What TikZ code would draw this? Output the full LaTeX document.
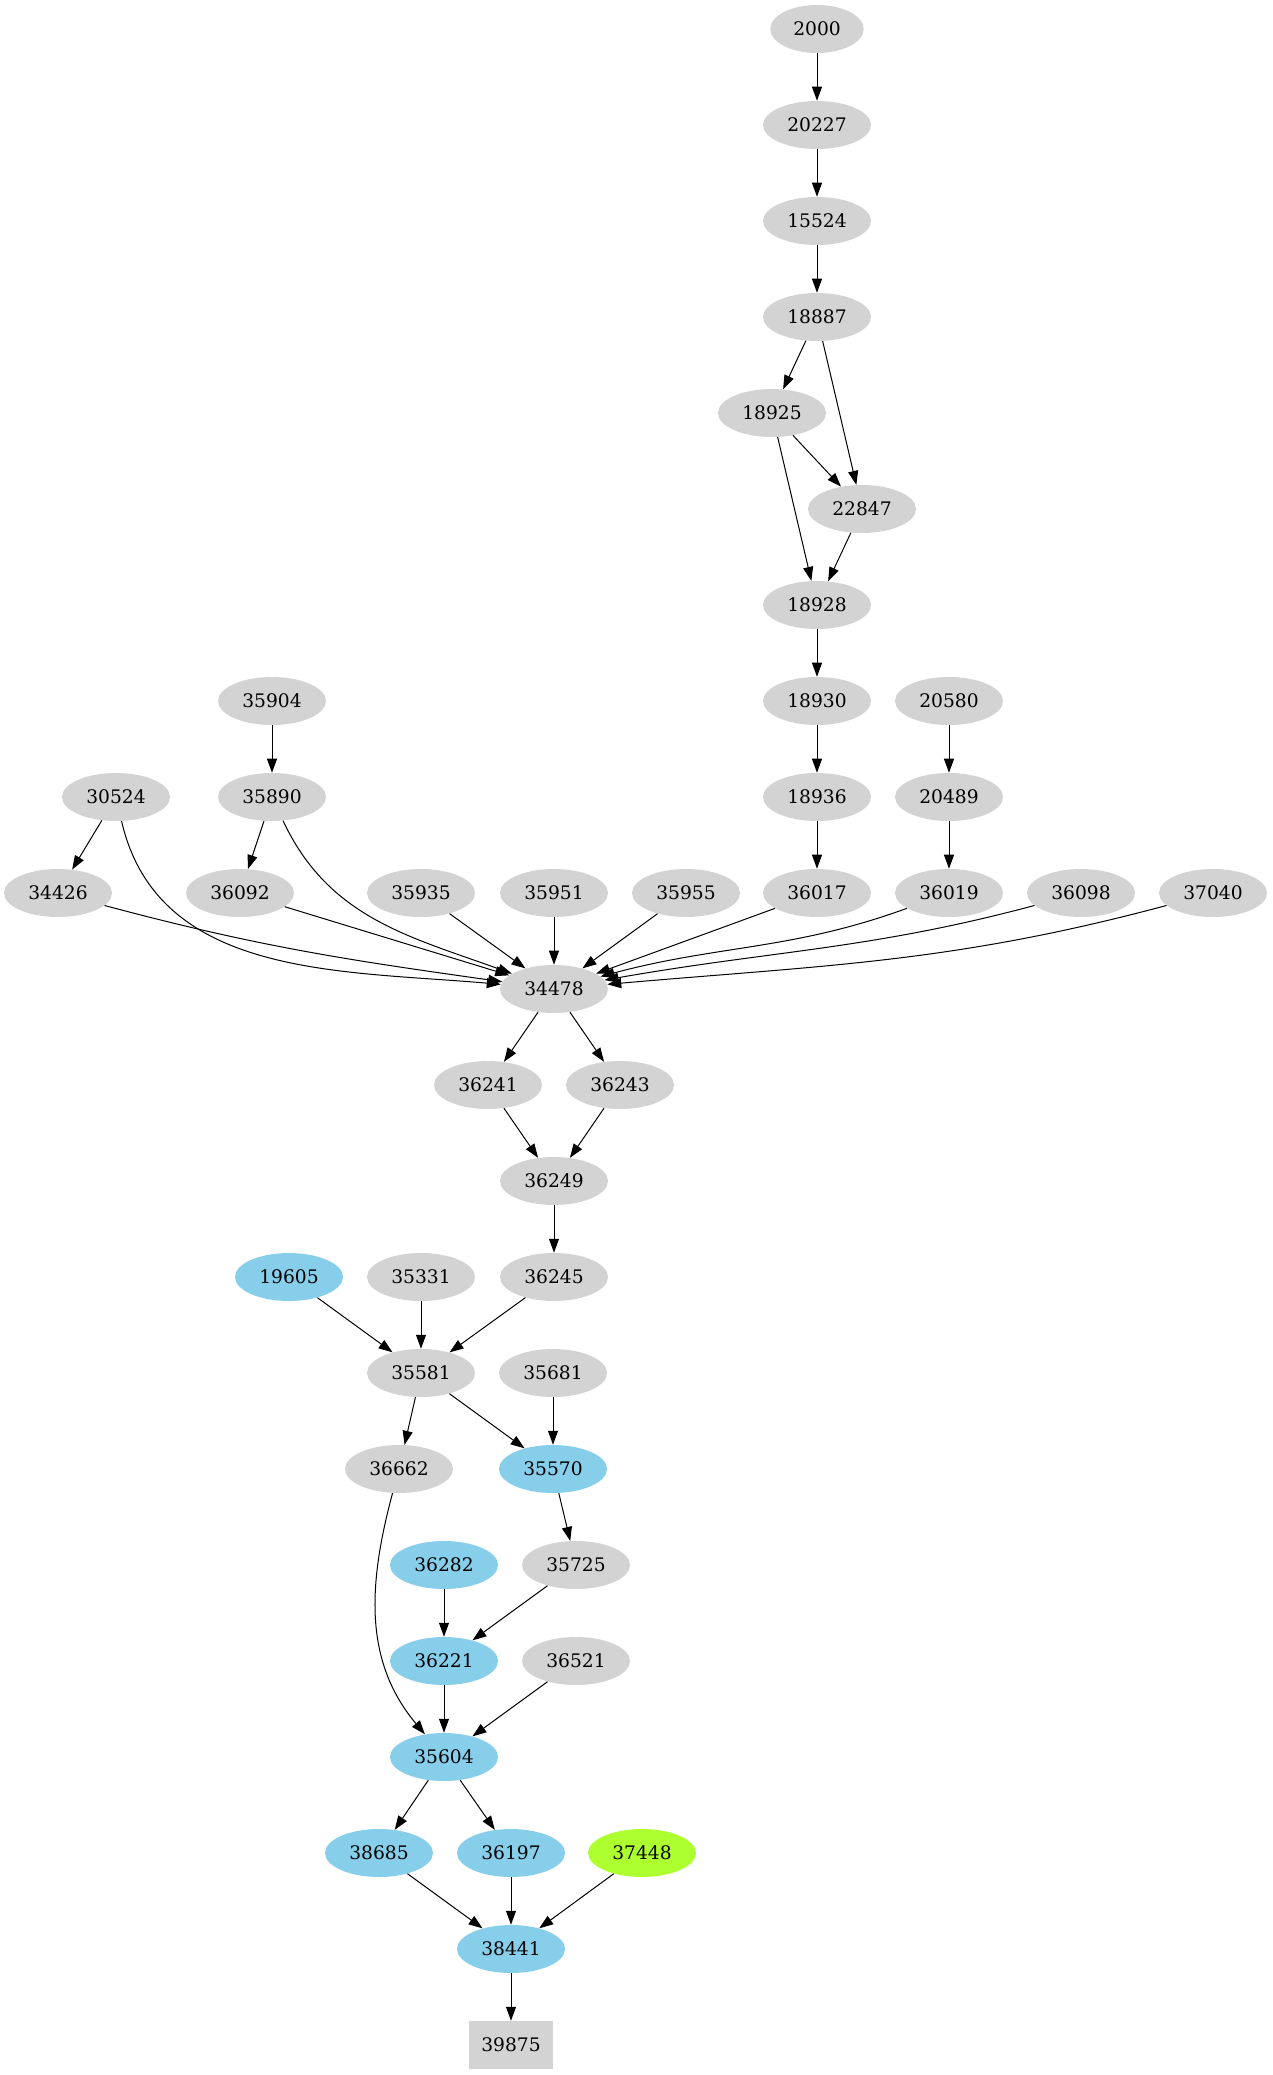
\documentclass[tikz,border=0pt]{standalone}
\usepackage{fontspec}
\setmainfont{DejaVu Serif}
\usepackage{tikz}
\usetikzlibrary{arrows.meta,shapes.geometric}
\definecolor{grayfill}{HTML}{D3D3D3}
\definecolor{skyfill}{HTML}{87CEEB}
\definecolor{limefill}{HTML}{ADFF2F}

\begin{document}
\begin{tikzpicture}[x=0.75pt,y=-0.75pt]
\tikzset{vertex/.style = {shape=ellipse,fill=grayfill,minimum width=81pt,minimum height=36pt,inner sep=0pt,font=\fontsize{14}{16}\selectfont}}
\tikzset{sky/.style = {vertex,fill=skyfill}}
\tikzset{lime/.style = {vertex,fill=limefill}}
\tikzset{sink/.style = {vertex,shape=rectangle,minimum width=63pt}}
\tikzset{edge/.style = {->,> = {Triangle[length=10.5pt,width=7.5pt]},line width=0.75pt}}
\useasboundingbox (0,0) rectangle (1273,2075);
% vertices

\node[vertex,minimum width=70pt] (n2000) at (817,29) {2000};
\node[vertex] (n20227) at (817,125) {20227};
\node[vertex] (n15524) at (817,221) {15524};
\node[vertex] (n18887) at (817,317) {18887};
\node[vertex] (n18925) at (772,413) {18925};
\node[vertex] (n22847) at (862,509) {22847};
\node[vertex] (n18928) at (817,605) {18928};
\node[vertex] (n35904) at (272,701) {35904};
\node[vertex] (n18930) at (817,701) {18930};
\node[vertex] (n20580) at (949,701) {20580};
\node[vertex] (n30524) at (116,797) {30524};
\node[vertex] (n35890) at (272,797) {35890};
\node[vertex] (n18936) at (817,797) {18936};
\node[vertex] (n20489) at (949,797) {20489};
\node[vertex] (n34426) at (58,893) {34426};
\node[vertex] (n36092) at (240,893) {36092};
\node[vertex] (n35935) at (421,893) {35935};
\node[vertex] (n35951) at (554,893) {35951};
\node[vertex] (n35955) at (686,893) {35955};
\node[vertex] (n36017) at (817,893) {36017};
\node[vertex] (n36019) at (949,893) {36019};
\node[vertex] (n36098) at (1081,893) {36098};
\node[vertex] (n37040) at (1213,893) {37040};
\node[vertex] (n34478) at (554,989) {34478};
\node[vertex] (n36241) at (488,1085) {36241};
\node[vertex] (n36243) at (620,1085) {36243};
\node[vertex] (n36249) at (554,1181) {36249};
\node[sky] (n19605) at (289,1277) {19605};
\node[vertex] (n35331) at (421,1277) {35331};
\node[vertex] (n36245) at (554,1277) {36245};
\node[vertex] (n35581) at (421,1373) {35581};
\node[vertex] (n35681) at (553,1373) {35681};
\node[vertex] (n36662) at (399,1469) {36662};
\node[sky] (n35570) at (553,1469) {35570};
\node[sky] (n36282) at (444,1565) {36282};
\node[vertex] (n35725) at (576,1565) {35725};
\node[sky] (n36221) at (444,1661) {36221};
\node[vertex] (n36521) at (576,1661) {36521};
\node[sky] (n35604) at (444,1757) {35604};
\node[sky] (n38685) at (379,1853) {38685};
\node[sky] (n36197) at (511,1853) {36197};
\node[lime] (n37448) at (642,1853) {37448};
\node[sky] (n38441) at (511,1949) {38441};
\node[sink] (n39875) at (511,2045) {39875};

%edges
\draw[edge] (n2000) to (n20227);
\draw[edge] (n20227) to (n15524);
\draw[edge] (n15524) to (n18887);
\draw[edge] (n18887) to (n18925);
\draw[edge] (n18887) to (n22847);
\draw[edge] (n18925) to (n22847);
\draw[edge] (n18925) to (n18928);
\draw[edge] (n22847) to (n18928);
\draw[edge] (n18928) to (n18930);
\draw[edge] (n18930) to (n18936);
\draw[edge] (n18936) to (n36017);
\draw[edge] (n20580) to (n20489);
\draw[edge] (n20489) to (n36019);
\draw[edge] (n35904) to (n35890);
\draw[edge] (n30524) to (n34426);
\draw[edge] (n35890) to (n36092);
\draw[edge] (n30524) to[out=-77,in=175] (n34478);
\draw[edge] (n35890) to[out=-65,in=160] (n34478);
\draw[edge] (n34426) to[out=-15,in=172] (n34478);
\draw[edge] (n36092) to (n34478);
\draw[edge] (n35935) to (n34478);
\draw[edge] (n35951) to (n34478);
\draw[edge] (n35955) to (n34478);
\draw[edge] (n36017) to (n34478);
\draw[edge] (n36019) to[out=-160,in=15] (n34478);
\draw[edge] (n36098) to[out=-165,in=10] (n34478);
\draw[edge] (n37040) to[out=-165,in=5] (n34478);
\draw[edge] (n34478) to (n36241);
\draw[edge] (n34478) to (n36243);
\draw[edge] (n36241) to (n36249);
\draw[edge] (n36243) to (n36249);
\draw[edge] (n36249) to (n36245);
\draw[edge] (n19605) to (n35581);
\draw[edge] (n35331) to (n35581);
\draw[edge] (n36245) to (n35581);
\draw[edge] (n35581) to (n36662);
\draw[edge] (n35581) to (n35570);
\draw[edge] (n35681) to (n35570);
\draw[edge] (n35570) to (n35725);
\draw[edge] (n36662) to[out=-105,in=130] (n35604);
\draw[edge] (n36282) to (n36221);
\draw[edge] (n35725) to (n36221);
\draw[edge] (n36221) to (n35604);
\draw[edge] (n36521) to (n35604);
\draw[edge] (n35604) to (n38685);
\draw[edge] (n35604) to (n36197);
\draw[edge] (n38685) to (n38441);
\draw[edge] (n36197) to (n38441);
\draw[edge] (n37448) to (n38441);
\draw[edge] (n38441) to (n39875);

\end{tikzpicture}
\end{document}
